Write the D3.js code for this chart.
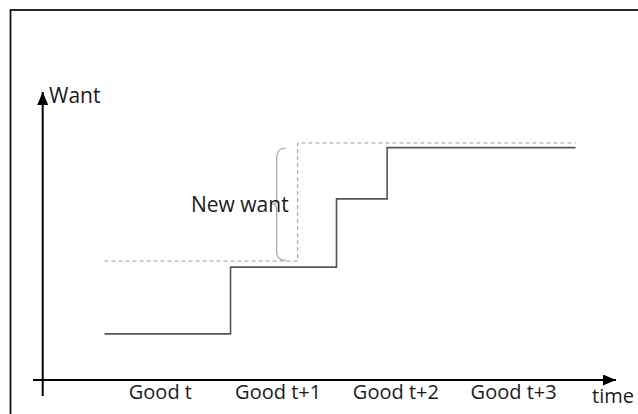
<!DOCTYPE html>
<html>
<head>
<meta charset="utf-8">
<script src="https://cdn.jsdelivr.net/npm/d3@7"></script>
<style>
  body { margin: 0; background: #fff; }
  svg { display: block; font-family: "Open Sans", sans-serif; }
  .label { fill: #1a1a1a; font-size: 20px; font-weight: 400; }
</style>
</head>
<body>
<svg id="chart" width="638" height="414"></svg>
<script>
// periods along the time axis
const periods = ['Good t', 'Good t+1', 'Good t+2', 'Good t+3'];

// realised want, stepping up over time
const wantSteps = [
    {t: 0.03, v: 1.6},
    {t: 1.1,  v: 3.92},
    {t: 2.0,  v: 6.29},
    {t: 2.43, v: 8.07},
    {t: 4.03, v: 8.07}
];

// the new (target) want, dashed
const newWant = [
    {t: 0.03, v: 4.13},
    {t: 1.67, v: 8.23},
    {t: 4.03, v: 8.23}
];

// brace marking the gap, in data units
const braceSpan = {t: 1.5, from: 4.15, to: 8.05};

const svg = d3.select('#chart');

let x = d3.scaleLinear().domain([0, 4]).range([101, 572]);
let y = d3.scaleLinear().domain([0, 10]).range([380, 92]);

// frame
svg.append('rect')
    .attr('x', 10.5).attr('y', 10)
    .attr('width', 700).attr('height', 500)
    .attr('fill', 'none')
    .attr('stroke', '#111')
    .attr('stroke-width', 1.8);

// arrow marker
svg.append('defs').append('marker')
    .attr('id', 'arrow')
    .attr('viewBox', '0 0 13 11')
    .attr('refX', 13).attr('refY', 5.5)
    .attr('markerWidth', 13).attr('markerHeight', 11)
    .attr('markerUnits', 'userSpaceOnUse')
    .attr('orient', 'auto')
    .append('path')
    .attr('d', 'M0,0 L13,5.5 L0,11 Z')
    .attr('fill', '#000');

// y axis (no ticks, just the arrow)
svg.append('line')
    .attr('x1', 42.7).attr('y1', 396)
    .attr('x2', 42.7).attr('y2', y(10))
    .attr('stroke', '#000').attr('stroke-width', 2)
    .attr('marker-end', 'url(#arrow)');

// x axis line with arrow
svg.append('line')
    .attr('x1', 33).attr('y1', y(0))
    .attr('x2', 616).attr('y2', y(0))
    .attr('stroke', '#000').attr('stroke-width', 2)
    .attr('marker-end', 'url(#arrow)');

// tick labels via axis
let xAxis = d3.axisBottom(x)
    .tickValues(periods.map((d, i) => i + 0.5))
    .tickFormat((d, i) => periods[i])
    .tickSize(0);

let gx = svg.append('g')
    .attr('transform', `translate(0,${y(0)})`)
    .call(xAxis)
    .attr('font-family', null)
    .attr('font-size', null);
gx.select('.domain').remove();
gx.selectAll('text')
    .attr('class', 'label')
    .attr('fill', null)
    .attr('y', 19).attr('dy', 0);

svg.append('text')
    .attr('class', 'label')
    .attr('x', 592).attr('y', 403)
    .text('time');

svg.append('text')
    .attr('class', 'label')
    .attr('x', 49).attr('y', 103)
    .style('font-size', '21px')
    .text('Want');

// lines
let line = d3.line()
    .x(d => x(d.t))
    .y(d => y(d.v))
    .curve(d3.curveStepAfter);

svg.append('path')
    .datum(newWant)
    .attr('d', line)
    .attr('fill', 'none')
    .attr('stroke', '#999')
    .attr('stroke-width', 1)
    .attr('stroke-dasharray', '4,3');

svg.append('path')
    .datum(wantSteps)
    .attr('d', line)
    .attr('fill', 'none')
    .attr('stroke', '#555')
    .attr('stroke-width', 1.6);

// brace
let xb = x(braceSpan.t) - 1;
let y1 = y(braceSpan.to), y2 = y(braceSpan.from), ym = (y1 + y2) / 2;
svg.append('path')
    .attr('d', `M${xb + 9},${y1} Q${xb},${y1} ${xb},${y1 + 10} L${xb},${ym - 5}
        Q${xb},${ym} ${xb - 4},${ym} Q${xb},${ym} ${xb},${ym + 5}
        L${xb},${y2 - 10} Q${xb},${y2} ${xb + 9},${y2}`)
    .attr('fill', 'none')
    .attr('stroke', '#aaa')
    .attr('stroke-width', 1.3);

svg.append('text')
    .attr('class', 'label')
    .attr('x', 191).attr('y', 212)
    .style('font-size', '21px')
    .text('New want');
</script>
</body>
</html>
